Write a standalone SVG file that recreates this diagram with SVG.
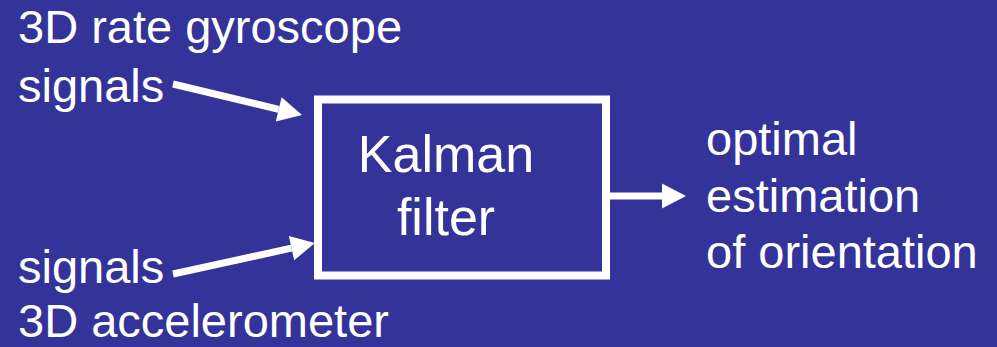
<svg xmlns="http://www.w3.org/2000/svg" width="997" height="347" viewBox="0 0 997 347">
  <style>
    .lbl { font-family: "Liberation Sans", Arial, sans-serif; fill: #ffffff; font-size: 47px; }
    .big { font-size: 52px; text-anchor: middle; }
    .wire { stroke: #ffffff; stroke-width: 7; fill: none; }
  </style>
  <defs>
    <marker id="head" markerUnits="userSpaceOnUse" markerWidth="25" markerHeight="26" refX="0" refY="12.5" orient="auto" overflow="visible">
      <path d="M0,0 L24,12.5 L0,25 Z" fill="#ffffff"/>
    </marker>
  </defs>
  <rect width="997" height="347" fill="#333399"/>

  <g id="gyro">
    <text class="lbl" x="18" y="43">3D rate gyroscope</text>
    <text class="lbl" x="18" y="102">signals</text>
  </g>

  <g id="accel">
    <text class="lbl" x="18" y="283">signals</text>
    <text class="lbl" x="18" y="337">3D accelerometer</text>
  </g>

  <g id="kalman">
    <rect x="318" y="99.5" width="288" height="176" fill="none" stroke="#ffffff" stroke-width="8"/>
    <text class="lbl big" x="446" y="172">Kalman</text>
    <text class="lbl big" x="446" y="235">filter</text>
  </g>

  <g id="output">
    <text class="lbl" x="706" y="155">optimal</text>
    <text class="lbl" x="706" y="212">estimation</text>
    <text class="lbl" x="706" y="268">of orientation</text>
  </g>

  <g id="connectors">
    <line class="wire" x1="173" y1="84" x2="278.7" y2="109.4" marker-end="url(#head)"/>
    <line class="wire" x1="173" y1="274" x2="291.5" y2="248.1" marker-end="url(#head)"/>
    <line class="wire" x1="606" y1="196" x2="662" y2="196" marker-end="url(#head)"/>
  </g>
</svg>
